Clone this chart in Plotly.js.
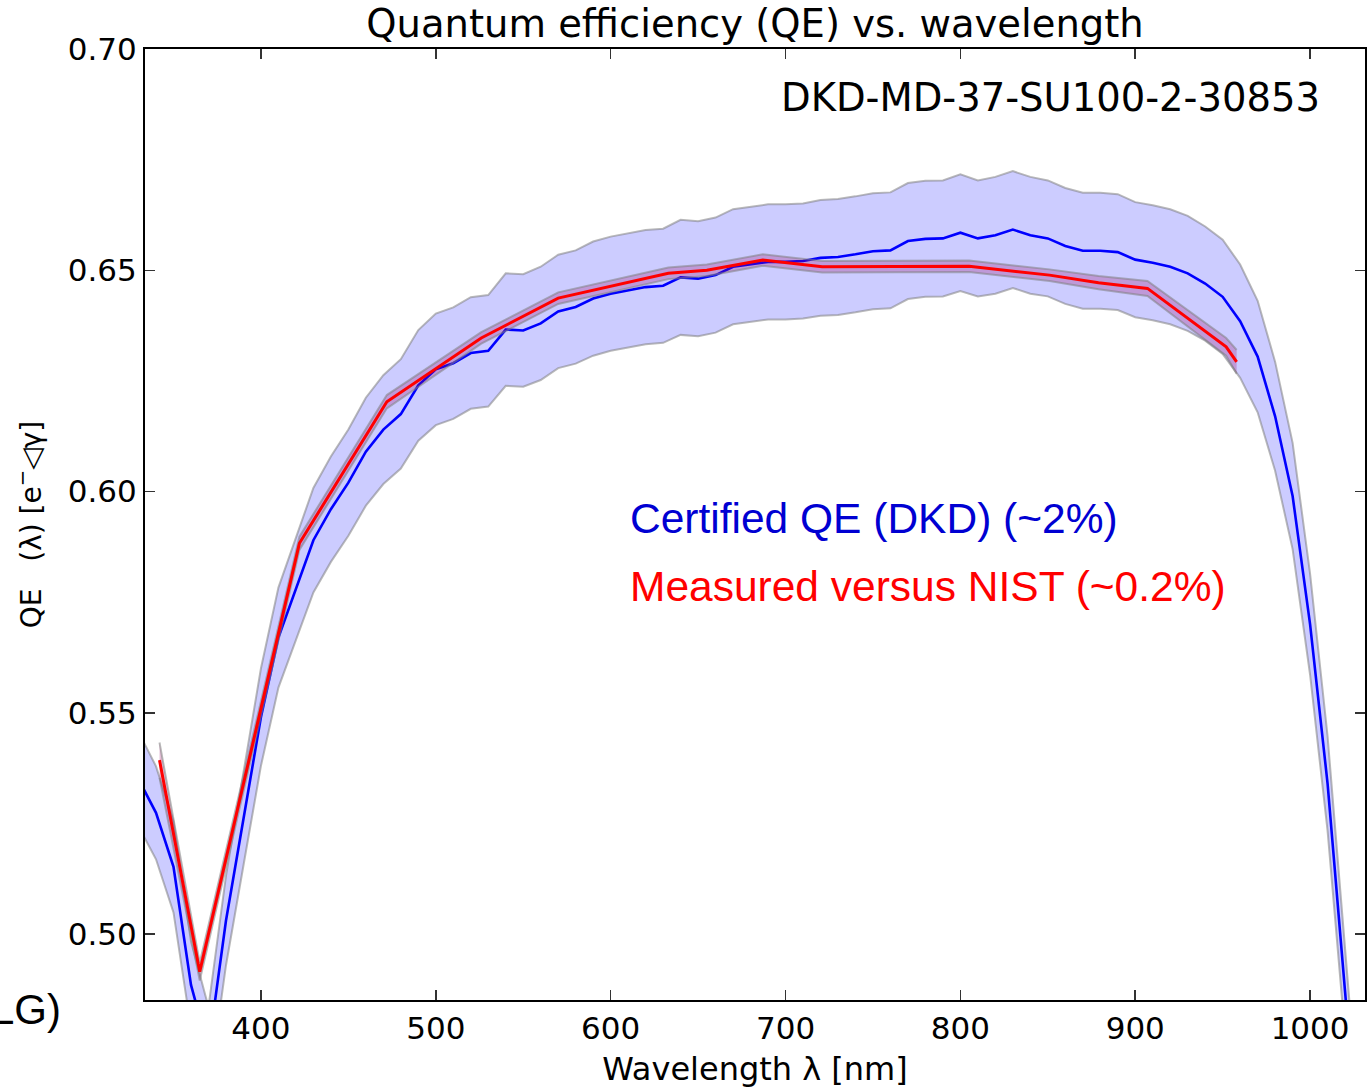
<!DOCTYPE html>
<html>
<head>
<meta charset="utf-8">
<script src="https://cdn.plot.ly/plotly-3.0.1.min.js"></script>
<style>html,body{margin:0;padding:0;background:#fff;}#chart{width:1371px;height:1088px;}</style>
</head>
<body>
<div id="chart"></div>
<script>
// Certified QE (DKD) – wavelength grid and values
const dkdWavelength = [330,340,350,360,370,380,390,400,410,420,430,440,450,460,470,480,490,500,510,520,530,540,550,560,570,580,590,600,610,620,630,640,650,660,670,680,690,700,710,720,730,740,750,760,770,780,790,800,810,820,830,840,850,860,870,880,890,900,910,920,930,940,950,960,970,980,990,1000,1010,1020,1030];
const dkdQE = [0.5350,0.5274,0.5152,0.4885,0.4740,0.5030,0.5260,0.5490,0.5670,0.5780,0.5890,0.5960,0.6020,0.6090,0.6140,0.6175,0.6240,0.6276,0.6290,0.6313,0.6318,0.6366,0.6364,0.6380,0.6407,0.6417,0.6436,0.6447,0.6455,0.6462,0.6465,0.6484,0.6481,0.6489,0.6508,0.6513,0.6519,0.6519,0.6521,0.6528,0.6530,0.6536,0.6543,0.6545,0.6566,0.6571,0.6572,0.6585,0.6572,0.6579,0.6592,0.6579,0.6572,0.6555,0.6544,0.6544,0.6541,0.6524,0.6517,0.6508,0.6493,0.6470,0.6440,0.6385,0.6305,0.6170,0.5990,0.5700,0.5340,0.4870,0.4400];
const dkdUpper = [0.5457,0.5379,0.5255,0.4983,0.4835,0.5131,0.5365,0.5600,0.5783,0.5896,0.6008,0.6079,0.6140,0.6212,0.6263,0.6299,0.6365,0.6402,0.6416,0.6439,0.6444,0.6493,0.6491,0.6508,0.6535,0.6545,0.6565,0.6576,0.6584,0.6591,0.6594,0.6614,0.6611,0.6619,0.6638,0.6643,0.6649,0.6649,0.6651,0.6659,0.6661,0.6667,0.6674,0.6676,0.6697,0.6702,0.6703,0.6717,0.6703,0.6711,0.6724,0.6711,0.6703,0.6686,0.6675,0.6675,0.6672,0.6654,0.6647,0.6638,0.6623,0.6599,0.6569,0.6513,0.6431,0.6293,0.6110,0.5814,0.5447,0.4967,0.4488];
const dkdLower = [0.5243,0.5169,0.5049,0.4787,0.4645,0.4929,0.5155,0.5380,0.5557,0.5664,0.5772,0.5841,0.5900,0.5968,0.6017,0.6052,0.6115,0.6150,0.6164,0.6187,0.6192,0.6239,0.6237,0.6252,0.6279,0.6289,0.6307,0.6318,0.6326,0.6333,0.6336,0.6354,0.6351,0.6359,0.6378,0.6383,0.6389,0.6389,0.6391,0.6397,0.6399,0.6405,0.6412,0.6414,0.6435,0.6440,0.6441,0.6453,0.6441,0.6447,0.6460,0.6447,0.6441,0.6424,0.6413,0.6413,0.6410,0.6394,0.6387,0.6378,0.6363,0.6341,0.6311,0.6257,0.6179,0.6047,0.5870,0.5586,0.5233,0.4773,0.4312];

// Measured versus NIST
const nistWavelength = [342,365,422,472,526,570,633,655,687,721,805,851,879,907,952,958];
const nistQE = [0.5393,0.4915,0.5883,0.6203,0.6347,0.6437,0.6493,0.6500,0.6523,0.6508,0.6509,0.6489,0.6472,0.6459,0.6327,0.6293];
const nistUpper = [0.5433,0.4935,0.5898,0.6218,0.6360,0.6450,0.6506,0.6513,0.6536,0.6521,0.6522,0.6502,0.6487,0.6476,0.6347,0.6320];
const nistLower = [0.5353,0.4895,0.5868,0.6188,0.6334,0.6424,0.6480,0.6487,0.6510,0.6495,0.6496,0.6476,0.6457,0.6442,0.6307,0.6266];

const xTicks = [400,500,600,700,800,900,1000];
const yTicks = [0.50,0.55,0.60,0.65,0.70];

const edge = {color:'rgba(128,128,128,0.55)', width:2};

const traces = [
  {x:dkdWavelength, y:dkdUpper, mode:'lines', line:edge, hoverinfo:'skip', showlegend:false},
  {x:dkdWavelength, y:dkdLower, mode:'lines', line:edge, fill:'tonexty', fillcolor:'rgba(0,0,255,0.2)', hoverinfo:'skip', showlegend:false},
  {x:dkdWavelength, y:dkdQE, mode:'lines', line:{color:'#0000ff', width:2.6}, showlegend:false},
  {x:nistWavelength, y:nistUpper, mode:'lines', line:edge, hoverinfo:'skip', showlegend:false},
  {x:nistWavelength, y:nistLower, mode:'lines', line:edge, fill:'tonexty', fillcolor:'rgba(150,0,100,0.25)', hoverinfo:'skip', showlegend:false},
  {x:nistWavelength, y:nistQE, mode:'lines', line:{color:'#ff0000', width:3}, showlegend:false}
];

const axisCommon = {
  showline:true, linecolor:'#000', linewidth:2, mirror:'ticks',
  ticks:'inside', ticklen:10, tickwidth:1.5, tickcolor:'#333',
  showgrid:false, zeroline:false,
  tickfont:{family:'DejaVu Sans', size:31, color:'#000'}
};

const layout = {
  width:1371, height:1088,
  margin:{l:145, r:6, t:49, b:88},
  paper_bgcolor:'#fff', plot_bgcolor:'#fff',
  font:{family:'DejaVu Sans', color:'#000'},
  title:{text:'Quantum efficiency (QE) vs. wavelength', font:{family:'DejaVu Sans', size:38.5, color:'#000'},
         xref:'paper', x:0.5, xanchor:'center', yref:'container', y:1-24/1088, yanchor:'middle'},
  xaxis:Object.assign({}, axisCommon, {
    range:[333.7, 1031.4], tickvals:xTicks, ticktext:xTicks.map(String),
    title:{text:'Wavelength λ [nm]', font:{family:'DejaVu Sans', size:32, color:'#000'}, standoff:14},
    automargin:false
  }),
  yaxis:Object.assign({}, axisCommon, {
    range:[0.4851, 0.70], tickvals:yTicks, ticktext:yTicks.map(v=>v.toFixed(2)),
    title:{text:'QE\u00a0\u00a0\u00a0(λ) [e<sup>−</sup>◁γ]', font:{family:'DejaVu Sans', size:28, color:'#000'}, standoff:18},
    automargin:false
  }),
  annotations:[
    {xref:'paper', yref:'paper', x:0.9645, y:0.9495, xanchor:'right', yanchor:'middle', showarrow:false,
     text:'DKD-MD-37-SU100-2-30853', font:{family:'DejaVu Sans', size:38.5, color:'#000'}},
    {xref:'paper', yref:'paper', x:0.396, y:0.5058, xanchor:'left', yanchor:'middle', showarrow:false,
     text:'Certified QE (DKD) (~2%)', font:{family:'Liberation Sans', size:42.5, color:'rgb(0,0,210)'}},
    {xref:'paper', yref:'paper', x:0.396, y:0.4343, xanchor:'left', yanchor:'middle', showarrow:false,
     text:'Measured versus NIST (~0.2%)', font:{family:'Liberation Sans', size:42.5, color:'#ff0000'}},
    {xref:'paper', yref:'paper', x:-0.0672, y:-0.0105, xanchor:'right', yanchor:'middle', showarrow:false,
     text:'LG)', font:{family:'Liberation Sans', size:42, color:'#000'}}
  ]
};

Plotly.newPlot('chart', traces, layout, {displayModeBar:false, staticPlot:true});
</script>
</body>
</html>
